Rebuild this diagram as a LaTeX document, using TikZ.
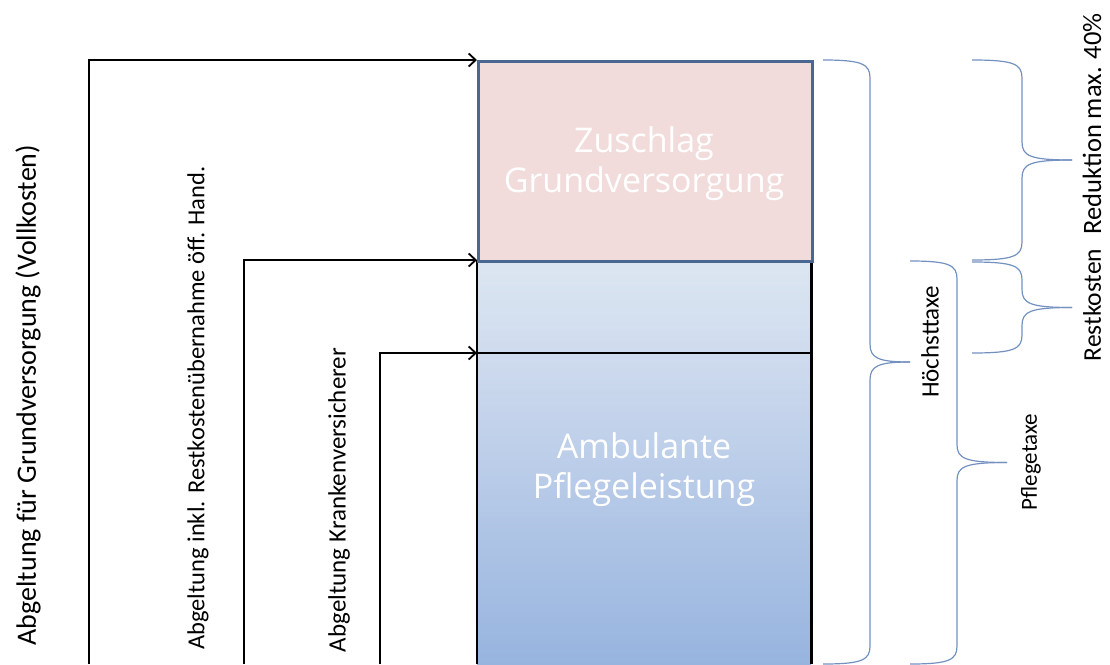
\documentclass[tikz,border=0pt]{standalone}
\usepackage{fontspec}
\setmainfont{Carlito}
\newfontfamily\boxfont{Open Sans}
\usetikzlibrary{arrows.meta}
\definecolor{pinkfill}{HTML}{F2DCDB}
\definecolor{boxblue}{HTML}{4A6792}
\definecolor{bluetop}{HTML}{DCE6F2}
\definecolor{bluemid}{HTML}{CFDBEE}
\definecolor{bluebot}{HTML}{97B4DF}
\definecolor{bracecol}{HTML}{7391C0}
\tikzset{
  boxtext/.style={text=white, font=\boxfont\fontsize{34}{40}\selectfont, align=center},
  sidelabel/.style={rotate=90, text=black, inner sep=0pt},
  arr/.style={line width=2pt, -{Straight Barb[length=7pt,width=13pt,line width=1.8pt]}},
  blackedge/.style={line width=2.8pt, black},
  bracelinestyle/.style={line width=1.2pt, bracecol},
}
\newcommand\fsz[1]{\fontsize{#1}{#1}\selectfont}
\newcommand\mybrace[6]{% xl, yt, yb, xs, xt, name
  \pgfmathsetmacro\bym{(#2+#3)/2}
  \draw[bracelinestyle] (#1,#2) .. controls (#4-8,#2) and (#4,#2+4) .. (#4,#2+18)
     -- (#4,\bym-18) .. controls (#4,\bym-4) and (#4+8,\bym) .. (#5,\bym)
     coordinate (#6);
  \draw[bracelinestyle] (#5,\bym) .. controls (#4+8,\bym) and (#4,\bym+4) .. (#4,\bym+18)
     -- (#4,#3-18) .. controls (#4,#3-4) and (#4-8,#3) .. (#1,#3);
}
\begin{document}
\begin{tikzpicture}[x=1pt,y=-1pt]
\useasboundingbox (0,0) rectangle (1110,664);
% lower blue sections
\node[anchor=north west, minimum width=334pt, minimum height=93pt, inner sep=0pt,
      top color=bluetop, bottom color=bluemid] (rest) at (477,260) {};
\node[anchor=north west, minimum width=334pt, minimum height=311pt, inner sep=0pt,
      top color=bluemid, bottom color=bluebot] (amb) at (477,353) {};
\node[boxtext] (ambtext) at (644,470) {Ambulante\\Pflegeleistung};
\draw[blackedge] (amb.south west) -- (rest.north west);
\draw[blackedge] (amb.south east) -- (rest.north east);
\draw[blackedge] (amb.north west) -- (amb.north east);
% top pink section
\node[anchor=north west, minimum width=334pt, minimum height=200pt, inner sep=0pt,
      fill=pinkfill, draw=boxblue, line width=2.8pt] (zus) at (477,60) {};
\node[boxtext] (zustext) at (644,164) {Zuschlag\\Grundversorgung};
% arrows
\coordinate (s1) at (89,664);
\coordinate (s2) at (244,664);
\coordinate (s3) at (380,664);
\draw[arr] (s1) |- (zus.north west);
\draw[arr] (s2) |- (rest.north west);
\draw[arr] (s3) |- (amb.north west);
% labels of arrows
\node[sidelabel, font=\fsz{28}] (l1) at (28,395) {Abgeltung für Grundversorgung (Vollkosten)};
\node[sidelabel, font=\fsz{24.5}] (l2) at (198,408) {Abgeltung inkl. Restkostenübernahme öff. Hand.};
\node[sidelabel, font=\fsz{25}] (l3) at (339,500) {Abgeltung Krankenversicherer};
% braces
\mybrace{823}{60}{664}{870}{910}{bh}
\mybrace{910}{261}{664}{957}{1007}{bp}
\mybrace{972}{60}{260}{1022}{1072}{br}
\mybrace{972}{262}{353}{1022}{1072}{bk}
\node[sidelabel, font=\fsz{25}] (hoe) at (930,342) {Höchsttaxe};
\node[sidelabel, font=\fsz{23}] (pfl) at (1031,462) {Pflegetaxe};
\node[sidelabel, font=\fsz{26.5}] (red) at (1092,124) {Reduktion max. 40\%};
\node[sidelabel, font=\fsz{25.5}] (rk) at (1092,305) {Restkosten};
\end{tikzpicture}
\end{document}
